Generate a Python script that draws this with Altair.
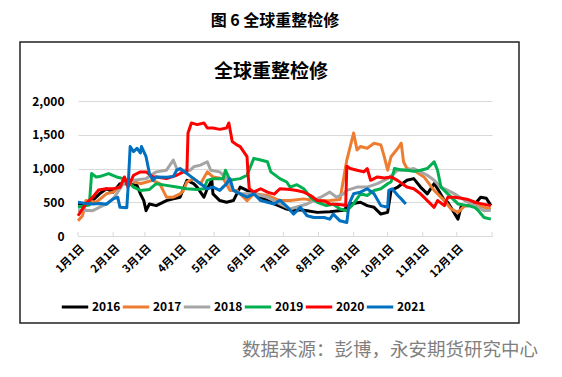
import altair as alt
import pandas as pd

years = ["2016", "2017", "2018", "2019", "2020", "2021"]
colors = ["#000000", "#ED7D31", "#A5A5A5", "#00B050", "#FF0000", "#0070C0"]

month_starts = [0, 31, 59, 90, 120, 151, 181, 212, 243, 273, 304, 334, 365]
y_ticks = [0, 500, 1000, 1500, 2000]

s2016 = [(0,475),(10,480),(19,625),(25,700),(31,650),(37,775),(43,775),(52,750),(55,625),(58,525),(60,375),(63,475),(69,450),(78,525),(84,550),(90,575),(96,825),(102,775),(105,725),(111,575),(114,700),(118,825),(119,625),(125,525),(131,500),(137,525),(143,725),(149,675),(155,650),(161,575),(167,525),(173,475),(184,400),(190,375),(196,390),(202,375),(211,350),(222,360),(234,380),(240,475),(249,500),(255,450),(261,425),(267,325),(273,350),(276,675),(282,725),(290,825),(296,850),(302,725),(308,625),(314,775),(317,700),(323,525),(326,500),(335,250),(338,450),(344,450),(350,475),(355,575),(360,560),(364,450)]
s2017 = [(0,225),(4,300),(7,525),(16,500),(25,625),(31,650),(40,775),(46,825),(55,775),(66,825),(72,775),(78,575),(84,575),(90,625),(93,675),(96,800),(102,850),(108,775),(114,950),(119,875),(128,850),(134,675),(140,675),(149,525),(155,625),(167,600),(178,525),(187,525),(199,550),(211,520),(222,525),(231,540),(237,1125),(243,1525),(246,1275),(249,1325),(255,1300),(261,1375),(267,1350),(270,1175),(273,975),(276,1175),(282,1300),(285,1375),(287,1100),(290,1000),(296,975),(305,875),(314,675),(323,525),(329,400),(335,350),(341,450),(350,460),(358,425),(364,400)]
s2018 = [(0,375),(7,380),(13,375),(25,475),(31,550),(40,775),(49,825),(60,850),(69,950),(78,975),(84,1125),(87,1000),(90,975),(99,975),(102,1025),(108,1050),(114,1100),(117,975),(125,950),(131,850),(137,675),(143,625),(155,625),(167,575),(178,475),(187,400),(202,475),(214,575),(222,650),(228,575),(234,625),(237,675),(246,725),(255,725),(264,775),(273,850),(282,975),(290,975),(296,1000),(302,950),(308,900),(314,825),(320,725),(326,675),(332,625),(341,525),(350,450),(358,375),(364,380)]
s2019 = [(0,425),(7,450),(10,460),(12,925),(16,875),(19,880),(27,925),(35,870),(40,850),(43,825),(49,725),(55,675),(63,690),(69,775),(78,750),(87,725),(96,700),(105,690),(111,700),(114,825),(119,850),(128,850),(130,975),(134,825),(143,850),(149,900),(155,1150),(161,1125),(167,1100),(170,950),(178,850),(184,800),(187,725),(193,760),(199,700),(205,575),(211,500),(219,450),(225,470),(231,400),(237,375),(243,480),(249,625),(255,600),(261,675),(267,700),(273,775),(276,800),(279,1000),(285,980),(290,975),(296,960),(302,975),(308,1000),(314,1100),(317,975),(320,725),(326,625),(335,475),(344,450),(350,420),(353,375),(358,275),(364,250)]
s2020 = [(0,300),(3,375),(7,475),(13,575),(18,680),(25,700),(31,700),(37,720),(41,875),(44,725),(49,900),(55,950),(60,950),(66,875),(69,875),(78,850),(87,900),(93,950),(96,950),(97,1525),(100,1675),(105,1650),(111,1675),(114,1600),(119,1600),(125,1580),(131,1600),(133,1675),(136,1400),(140,1350),(143,1325),(146,1250),(149,1175),(150,900),(151,700),(155,650),(161,700),(167,650),(173,620),(178,700),(187,690),(193,675),(199,650),(205,600),(211,525),(217,520),(222,475),(228,470),(234,460),(236,450),(237,1035),(240,1000),(246,975),(252,950),(255,1000),(258,825),(264,875),(270,860),(276,875),(282,820),(287,760),(290,725),(296,700),(302,625),(308,525),(314,425),(317,525),(323,450),(326,575),(332,575),(338,560),(344,540),(350,500),(355,480),(364,450)]
s2021 = [(0,500),(7,480),(13,475),(19,480),(25,470),(31,550),(35,575),(37,425),(43,420),(44,675),(46,1325),(49,1250),(52,1300),(55,1230),(56,1325),(60,1175),(63,925),(66,825),(69,875),(78,870),(84,880),(87,975),(90,1000),(96,925),(102,850),(108,775),(114,700),(119,725),(125,675),(131,775),(134,850),(137,675),(143,625),(149,575),(155,625),(161,525),(173,475),(178,530),(184,440),(190,325),(196,425),(202,300),(208,275),(217,275),(222,250),(225,325),(231,225),(237,200),(239,475),(243,625),(249,650),(255,700),(261,625),(267,450),(273,425),(274,675),(277,700),(282,600),(285,550),(289,475)]

series = [s2016, s2017, s2018, s2019, s2020, s2021]
rows = []
for yr, s in zip(years, series):
    for d, v in s:
        rows.append({"year": yr, "day": d, "value": v})
df = pd.DataFrame(rows)

W, H = 414, 135
FONT = "Noto Sans CJK SC"

x_scale = alt.Scale(domain=[0, 365], nice=False, zero=False)
x_axis = alt.Axis(values=month_starts, title=None, grid=False,
                  labelExpr="datum.value >= 365 ? '' : (indexof([0,31,59,90,120,151,181,212,243,273,304,334], datum.value) + 1) + '月1日'",
                  labelAngle=-45, labelAlign="right", labelBaseline="top",
                  labelFont=FONT, labelFontWeight="bold", labelFontSize=11,
                  labelColor="#000000", labelPadding=6, labelOverlap=False,
                  labelBound=False, labelFlush=False,
                  domainColor="#d9d9d9", tickColor="#d9d9d9", tickSize=0)

lines = alt.Chart(df).mark_line(strokeWidth=3, strokeJoin="round").encode(
    x=alt.X("day:Q", scale=x_scale, axis=x_axis),
    y=alt.Y("value:Q", scale=alt.Scale(domain=[0, 2000], nice=False),
            axis=alt.Axis(values=y_ticks, title=None, format=",.0f", domain=False, ticks=False,
                          gridColor="#d9d9d9", labelFont=FONT, labelFontWeight="bold",
                          labelFontSize=12, labelColor="#000000", labelPadding=14)),
    color=alt.Color("year:N", scale=alt.Scale(domain=years, range=colors),
                    legend=alt.Legend(title=None, orient="none", legendX=-18, legendY=191,
                                      direction="horizontal", columns=6, gridAlign="each",
                                      symbolType="stroke",
                                      symbolStrokeWidth=3, symbolSize=700,
                                      labelFont=FONT, labelFontWeight="bold", labelFontSize=12,
                                      labelColor="#000000", labelOffset=2, columnPadding=-9)),
    order=alt.Order("day:Q"),
)

tick_df = pd.DataFrame({"day": month_starts})
ticks = alt.Chart(tick_df).mark_rule(color="#d9d9d9", strokeWidth=1).encode(
    x=alt.X("day:Q", scale=x_scale, axis=x_axis), y=alt.value(H - 4), y2=alt.value(H)
)

box = alt.Chart(pd.DataFrame({"a": [0]})).mark_rect(
    fill=None, stroke="#222222", strokeWidth=1.5
).encode(x=alt.value(-58), x2=alt.value(441), y=alt.value(-59), y2=alt.value(222))

fig_title = alt.Chart(pd.DataFrame({"t": ["图 6 全球重整检修"]})).mark_text(
    font=FONT, fontWeight="bold", fontSize=16, color="#000000", align="center", baseline="middle"
).encode(text="t:N", x=alt.value(197), y=alt.value(-80))

chart_title = alt.Chart(pd.DataFrame({"t": ["全球重整检修"]})).mark_text(
    font=FONT, fontWeight="bold", fontSize=19, color="#000000", align="center", baseline="middle"
).encode(text="t:N", x=alt.value(193), y=alt.value(-29))

source = alt.Chart(pd.DataFrame({"t": ["数据来源：彭博，永安期货研究中心"]})).mark_text(
    font=FONT, fontSize=18.5, color="#7f7f7f", align="right", baseline="middle"
).encode(text="t:N", x=alt.value(460), y=alt.value(249))

chart = alt.layer(lines, ticks, box, fig_title, chart_title, source).properties(
    width=W, height=H,
    autosize=alt.AutoSizeParams(type="none"),
    padding={"left": 70, "top": 93, "right": 62, "bottom": 133},
).configure_view(stroke=None)

chart.save("out.html", embed_options={"renderer": "svg", "actions": False})
